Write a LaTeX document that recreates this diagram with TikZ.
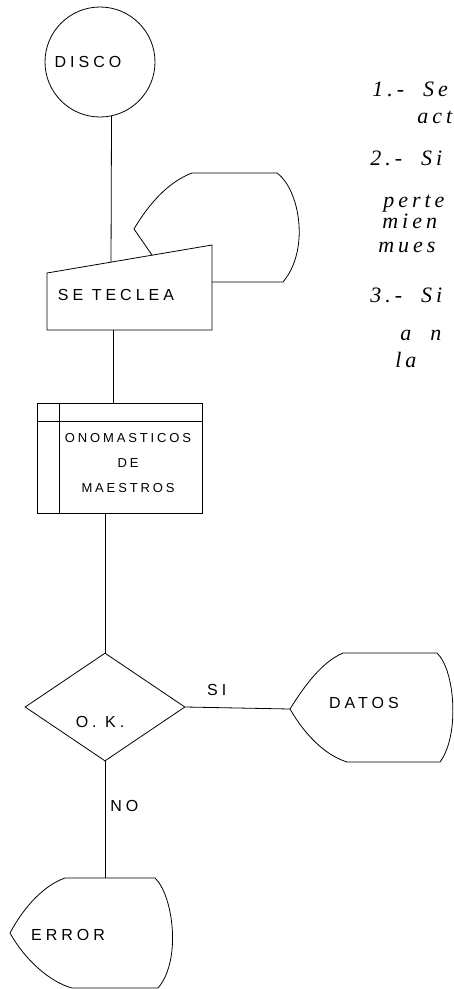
\documentclass[tikz,border=0pt]{standalone}
\usepackage{fontspec}
\newfontfamily\handfont[LetterSpace=25]{Liberation Sans}
\newfontfamily\boxfont[LetterSpace=22]{Liberation Sans}
\newfontfamily\notefont[LetterSpace=18]{Liberation Serif}
\usetikzlibrary{shapes.geometric,calc}

\begin{document}
\begin{tikzpicture}[x=1pt,y=-1pt,line width=0.8pt,
  hand/.style={font=\handfont\fontsize{16}{18}\selectfont,inner sep=0pt},
  note/.style={font=\notefont\itshape\fontsize{22}{26}\selectfont,anchor=base west,inner sep=0pt}]
\useasboundingbox (0,0) rectangle (453,989);
\clip (0,0) rectangle (453,989);

\node[circle,draw,minimum size=110pt,inner sep=0pt] (disco) at (100,62) {};
\node[hand] (discolbl) at (88,62) {DISCO};

\coordinate (teclatl) at (47,273);
\coordinate (teclatr) at (212,245);
\coordinate (teclabr) at (212,330);
\coordinate (teclabl) at (47,330);
\draw (teclatl) -- (teclatr) -- (teclabr) -- (teclabl) -- cycle;
\node[hand] (teclalbl) at (116,295) {SE TECLEA};
\draw (152,255) -- (134,229) .. controls (148,205) and (168,182) .. (192,173) -- (277,173)
  .. controls (300,190) and (310,250) .. (283,282) -- (212,282);
\draw (disco.-78.5) -- ($(teclatl)!0.388!(teclatr)$);

\node[draw,minimum width=165pt,minimum height=110pt,inner sep=0pt] (onom) at (119.5,458) {};
\draw (37,421) -- (202,421);
\draw (59,403) -- (59,513);
\node[font=\boxfont\fontsize{13}{25}\selectfont,align=center,inner sep=0pt] (onomlbl) at (128,463) {ONOMASTICOS\\DE\\MAESTROS};
\coordinate (teclaout) at ($(teclabl)!0.4!(teclabr)$);
\draw (teclaout) -- (teclaout |- onom.north);

\node[diamond,draw,minimum width=160pt,minimum height=108pt,inner sep=0pt] (ok) at (105,707) {};
\node[hand] (oklbl) at (100,722) {O. K.};
\draw (ok.north |- onom.south) -- (ok.north);

\coordinate (datosin) at (290,709);
\draw (datosin) .. controls (305,685) and (322,662) .. (343,653) -- (437,653)
  .. controls (455,670) and (460,735) .. (440,762) -- (347,762)
  .. controls (325,755) and (305,735) .. (datosin);
\node[hand] (datoslbl) at (364,703) {DATOS};
\draw (ok.east) -- (datosin) node[hand,pos=0.3,above=12pt] (si) {SI};

\coordinate (errorin) at (105,878);
\draw (10,933) .. controls (25,905) and (45,885) .. (65,878) -- (155,878)
  .. controls (173,895) and (182,960) .. (158,988) -- (72,988)
  .. controls (50,982) and (25,960) .. cycle;
\node[hand] (errorlbl) at (68,935) {ERROR};
\draw (ok.south) -- (errorin) node[hand,pos=0.38,right=5pt] (no) {NO};

\foreach \nx/\ny/\ntext [count=\i] in {372/96/{1.-\ \ Se},417/123/act,370/165/{2.-\ \ Si},
  383/207/perte,382/228/mien,378/252/mues,370/302/{3.-\ \ Si},400/340/{a\ \ n},395/367/la}
  \node[note] (note\i) at (\nx,\ny) {\ntext};
\end{tikzpicture}
\end{document}
